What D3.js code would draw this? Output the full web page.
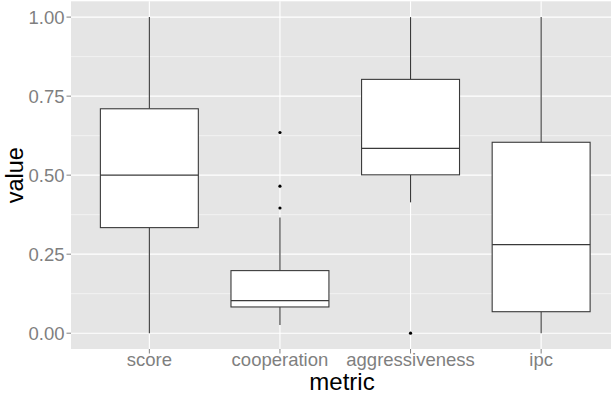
<!DOCTYPE html>
<html>
<head>
<meta charset="utf-8">
<script src="https://cdn.jsdelivr.net/npm/d3@7"></script>
<style>
  html, body { margin: 0; padding: 0; background: #fff; }
  svg { display: block; font-family: "Liberation Sans", Arial, Helvetica, sans-serif; }
</style>
</head>
<body>
<svg id="chart" width="611" height="398"></svg>
<script>
// Box-plot summaries per metric
const categories  = ["score", "cooperation", "aggressiveness", "ipc"];
const whiskerLow  = [0.000, 0.026, 0.414, 0.000];
const q1          = [0.334, 0.083, 0.501, 0.068];
const median      = [0.500, 0.103, 0.585, 0.280];
const q3          = [0.710, 0.198, 0.803, 0.604];
const whiskerHigh = [1.000, 0.366, 1.000, 1.000];
const outliers    = [[], [0.396, 0.465, 0.635], [0.000], []];

const yTicks      = [0, 0.25, 0.5, 0.75, 1];
const yMinorTicks = [0.125, 0.375, 0.625, 0.875];
const xTitle = "metric";
const yTitle = "value";

const svg = d3.select("#chart");
const W = 611, H = 398;
const panel = { left: 71, right: 619.5, top: 1.3, bottom: 349 };

const x = d3.scalePoint()
  .domain(categories)
  .range([panel.left, panel.right])
  .padding(0.6);
const y = d3.scaleLinear()
  .domain([-0.05, 1.05])
  .range([panel.bottom, panel.top]);

const boxW = x.step() * 0.75;
const textGrey = "#7f7f7f";
const lineCol = "#3a3a3a";

// panel background
svg.append("rect")
  .attr("x", panel.left).attr("y", panel.top)
  .attr("width", panel.right - panel.left)
  .attr("height", panel.bottom - panel.top)
  .attr("fill", "#e5e5e5");

// minor grid
svg.append("g").selectAll("line").data(yMinorTicks).join("line")
  .attr("x1", panel.left).attr("x2", panel.right)
  .attr("y1", d => y(d)).attr("y2", d => y(d))
  .attr("stroke", "#f2f2f2").attr("stroke-width", 1);

// major grid
svg.append("g").selectAll("line").data(yTicks).join("line")
  .attr("x1", panel.left).attr("x2", panel.right)
  .attr("y1", d => y(d)).attr("y2", d => y(d))
  .attr("stroke", "#ffffff").attr("stroke-width", 1.1);
svg.append("g").selectAll("line").data(categories).join("line")
  .attr("x1", d => x(d)).attr("x2", d => x(d))
  .attr("y1", panel.top).attr("y2", panel.bottom)
  .attr("stroke", "#ffffff").attr("stroke-width", 1.1);

// boxes
const rows = categories.map((c, i) => ({
  c, lo: whiskerLow[i], q1: q1[i], med: median[i], q3: q3[i], hi: whiskerHigh[i], out: outliers[i]
}));
const g = svg.append("g").selectAll("g").data(rows).join("g");

g.append("line")
  .attr("x1", d => x(d.c)).attr("x2", d => x(d.c))
  .attr("y1", d => y(d.q3)).attr("y2", d => y(d.hi))
  .attr("stroke", lineCol).attr("stroke-width", 1.1);
g.append("line")
  .attr("x1", d => x(d.c)).attr("x2", d => x(d.c))
  .attr("y1", d => y(d.q1)).attr("y2", d => y(d.lo))
  .attr("stroke", lineCol).attr("stroke-width", 1.1);
g.append("rect")
  .attr("x", d => x(d.c) - boxW / 2)
  .attr("width", boxW)
  .attr("y", d => y(d.q3))
  .attr("height", d => y(d.q1) - y(d.q3))
  .attr("fill", "#ffffff")
  .attr("stroke", lineCol).attr("stroke-width", 1.1);
g.append("line")
  .attr("x1", d => x(d.c) - boxW / 2).attr("x2", d => x(d.c) + boxW / 2)
  .attr("y1", d => y(d.med)).attr("y2", d => y(d.med))
  .attr("stroke", lineCol).attr("stroke-width", 1.3);
g.selectAll("circle").data(d => d.out.map(v => ({ c: d.c, v }))).join("circle")
  .attr("cx", d => x(d.c)).attr("cy", d => y(d.v))
  .attr("r", 1.6).attr("fill", "#000");

// y axis
const yAxis = svg.append("g");
yAxis.selectAll("line").data(yTicks).join("line")
  .attr("x1", panel.left - 4.5).attr("x2", panel.left)
  .attr("y1", d => y(d)).attr("y2", d => y(d))
  .attr("stroke", textGrey).attr("stroke-width", 1);
yAxis.selectAll("text").data(yTicks).join("text")
  .attr("x", panel.left - 6.5).attr("y", d => y(d))
  .attr("dy", "0.36em")
  .attr("text-anchor", "end")
  .attr("font-size", 18.5)
  .attr("fill", textGrey)
  .text(d => d3.format(".2f")(d));

// x axis
const xAxis = svg.append("g");
xAxis.selectAll("line").data(categories).join("line")
  .attr("x1", d => x(d)).attr("x2", d => x(d))
  .attr("y1", panel.bottom).attr("y2", panel.bottom + 4.5)
  .attr("stroke", textGrey).attr("stroke-width", 1);
xAxis.selectAll("text").data(categories).join("text")
  .attr("x", d => x(d)).attr("y", 366)
  .attr("text-anchor", "middle")
  .attr("font-size", 18.5)
  .attr("fill", textGrey)
  .text(d => d);

// axis titles
svg.append("text")
  .attr("x", (panel.left + W) / 2 + 1).attr("y", 390)
  .attr("text-anchor", "middle")
  .attr("font-size", 24)
  .attr("fill", "#000")
  .text(xTitle);
svg.append("text")
  .attr("transform", `translate(23, ${(panel.top + panel.bottom) / 2}) rotate(-90)`)
  .attr("text-anchor", "middle")
  .attr("font-size", 23.5)
  .attr("fill", "#000")
  .text(yTitle);
</script>
</body>
</html>
